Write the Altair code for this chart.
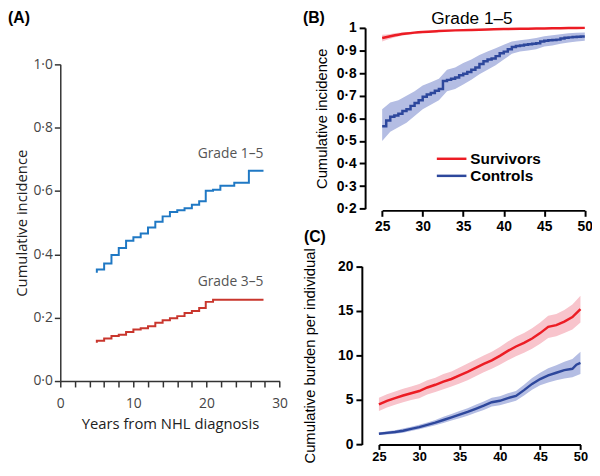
import altair as alt
import pandas as pd

# ---------------- data ----------------
# Panel A: cumulative incidence (step curves) vs years from NHL diagnosis
a_years_g15 = [5, 5, 6, 7, 8, 9, 10, 11, 12, 13, 14, 15, 16, 17, 18, 19, 19.9, 20.9, 21.9, 23.8, 25.8, 27.8]
a_inc_g15 = [0.342, 0.352, 0.371, 0.398, 0.420, 0.443, 0.454, 0.466, 0.485, 0.503, 0.520, 0.534,
             0.539, 0.546, 0.557, 0.568, 0.601, 0.604, 0.617, 0.626, 0.664, 0.664]
a_years_g35 = [5, 5, 6, 7, 8, 9, 10, 11, 12, 13, 14, 15, 16, 17, 18, 19, 19.9, 20.9, 27.8]
a_inc_g35 = [0.121, 0.127, 0.134, 0.142, 0.146, 0.155, 0.163, 0.167, 0.173, 0.184, 0.192, 0.198,
             0.205, 0.215, 0.221, 0.231, 0.250, 0.257, 0.257]
a_labels = ["Grade 1–5", "Grade 3–5"]
a_x_ticks = [0, 2, 4, 6, 8, 10, 12, 14, 16, 18, 20, 22, 24, 26, 28, 30]
a_y_ticks = [0.0, 0.2, 0.4, 0.6, 0.8, 1.0]

# Panel B: cumulative incidence grade 1-5 by attained age
b_years_ctrl = [25.0, 25.5, 26.0, 26.5, 27.0, 27.5, 28.0, 28.5, 29.0, 29.5, 30.0, 30.5, 31.0, 31.5,
                32.0, 32.5, 33.0, 33.5, 34.0, 34.5, 35.0, 35.5, 36.0, 36.5, 37.0, 37.5, 38.0, 38.5,
                39.0, 39.5, 40.0, 40.5, 41.0, 41.5, 42.0, 42.5, 43.0, 43.5, 44.0, 44.5, 45.0, 45.5,
                46.0, 46.5, 47.0, 47.5, 48.0, 48.5, 49.0, 49.5, 50.0]
b_inc_ctrl = [0.565, 0.590, 0.607, 0.612, 0.620, 0.632, 0.640, 0.655, 0.668, 0.680, 0.695, 0.705,
              0.712, 0.722, 0.730, 0.765, 0.770, 0.775, 0.780, 0.790, 0.797, 0.805, 0.815, 0.825,
              0.840, 0.852, 0.860, 0.865, 0.875, 0.888, 0.895, 0.905, 0.915, 0.920, 0.922, 0.925,
              0.928, 0.930, 0.932, 0.940, 0.943, 0.945, 0.946, 0.948, 0.953, 0.956, 0.958, 0.960,
              0.961, 0.962, 0.962]
b_band_years = [25, 26, 27, 28, 29, 30, 31, 32, 33, 34, 35, 36, 37, 38, 39, 40, 41, 42, 43, 44,
                45, 46, 47, 48, 49, 50]
b_ctrl_lo = [0.50, 0.54, 0.56, 0.58, 0.61, 0.64, 0.66, 0.68, 0.72, 0.73, 0.75, 0.77, 0.795, 0.815,
             0.835, 0.86, 0.885, 0.895, 0.90, 0.905, 0.918, 0.922, 0.93, 0.935, 0.94, 0.943]
b_ctrl_hi = [0.64, 0.67, 0.68, 0.70, 0.72, 0.745, 0.76, 0.775, 0.815, 0.825, 0.845, 0.86, 0.88,
             0.895, 0.91, 0.925, 0.94, 0.945, 0.95, 0.955, 0.963, 0.967, 0.972, 0.976, 0.978, 0.98]
b_years_surv = [25, 26, 27, 28, 29, 30, 32, 34, 36, 38, 40, 42, 44, 46, 48, 50]
b_inc_surv = [0.955, 0.963, 0.970, 0.975, 0.979, 0.982, 0.986, 0.989, 0.991, 0.993, 0.995, 0.996,
              0.997, 0.998, 0.999, 1.0]
b_surv_lo = [0.940, 0.952, 0.962, 0.968, 0.973, 0.977, 0.982, 0.986, 0.988, 0.991, 0.993, 0.994,
             0.995, 0.997, 0.998, 0.999]
b_surv_hi = [0.970, 0.973, 0.978, 0.981, 0.984, 0.986, 0.989, 0.992, 0.993, 0.995, 0.997, 0.998,
             0.998, 0.999, 1.0, 1.0]
b_legend = ["Survivors", "Controls"]
b_x_ticks = [25, 30, 35, 40, 45, 50]
b_y_ticks = [0.2, 0.3, 0.4, 0.5, 0.6, 0.7, 0.8, 0.9, 1.0]

# Panel C: cumulative burden per individual
c_years = [25, 26, 27, 28, 29, 30, 31, 32, 33, 34, 35, 36, 37, 38, 39, 40, 41, 42, 43, 44, 45,
           46, 47, 48, 49, 50]
c_surv = [4.5, 4.9, 5.2, 5.5, 5.75, 6.0, 6.4, 6.7, 7.05, 7.35, 7.75, 8.15, 8.6, 9.05, 9.45, 9.95,
          10.5, 11.0, 11.4, 11.9, 12.5, 13.2, 13.4, 13.8, 14.3, 15.2]
c_surv_lo = [3.75, 4.15, 4.45, 4.75, 5.0, 5.2, 5.6, 5.9, 6.2, 6.5, 6.85, 7.2, 7.65, 8.1, 8.5, 8.95,
             9.45, 9.9, 10.3, 10.75, 11.3, 11.95, 12.15, 12.5, 12.9, 13.7]
c_surv_hi = [5.25, 5.65, 5.95, 6.25, 6.5, 6.8, 7.2, 7.5, 7.9, 8.2, 8.65, 9.1, 9.55, 10.0, 10.4,
             10.95, 11.55, 12.1, 12.5, 13.05, 13.7, 14.45, 14.65, 15.1, 15.7, 16.7]
c_ctrl_years = [25, 26, 27, 28, 29, 30, 31, 32, 33, 34, 35, 36, 37, 38, 39, 40, 41, 42, 43, 44,
                45, 46, 47, 48, 49, 49.5, 50]
c_ctrl = [1.2, 1.3, 1.4, 1.55, 1.75, 1.95, 2.2, 2.45, 2.75, 3.05, 3.35, 3.65, 4.0, 4.35, 4.75,
          4.9, 5.2, 5.45, 6.1, 6.8, 7.35, 7.75, 8.05, 8.35, 8.5, 8.95, 9.15]
c_ctrl_lo = [1.05, 1.12, 1.2, 1.32, 1.5, 1.7, 1.93, 2.15, 2.4, 2.68, 2.95, 3.22, 3.55, 3.88, 4.25,
             4.4, 4.65, 4.9, 5.5, 6.15, 6.65, 6.95, 7.2, 7.4, 7.55, 7.9]
c_ctrl_hi = [1.35, 1.48, 1.6, 1.78, 2.0, 2.2, 2.47, 2.75, 3.1, 3.42, 3.75, 4.08, 4.45, 4.82, 5.25,
             5.4, 5.75, 6.0, 6.7, 7.45, 8.05, 8.55, 8.9, 9.3, 9.6, 10.4]
c_x_ticks = [25, 30, 35, 40, 45, 50]
c_y_ticks = [0, 5, 10, 15, 20]

# ---------------- style ----------------
W, H = 592, 460
FA = "Open Sans"
FB = "Liberation Sans"
A_BLUE, A_RED = "#1f78c4", "#c9362d"
RED, PINK = "#ec1c24", "#f8c4cc"
BLUE, LBLUE = "#2d479c", "#b4bde3"


def label(txt, x, y, size, weight="normal", font=FB, color="black", align="left", baseline="alphabetic"):
    return alt.Chart(pd.DataFrame({"t": [txt]})).mark_text(
        font=font, fontSize=size, fontWeight=weight, color=color, align=align, baseline=baseline
    ).encode(x=alt.value(x), y=alt.value(y), text="t:N")


# ---------------- panel A ----------------
dfA = pd.concat([
    pd.DataFrame({"year": a_years_g15, "inc": a_inc_g15, "grade": a_labels[0],
                  "idx": range(len(a_years_g15))}),
    pd.DataFrame({"year": a_years_g35, "inc": a_inc_g35, "grade": a_labels[1],
                  "idx": range(len(a_years_g35))}),
])
axA_x = alt.Axis(orient="bottom", offset=375 - H, values=a_x_ticks,
                 labelExpr="datum.value % 10 === 0 ? format(datum.value, 'd') : ''",
                 title="Years from NHL diagnosis", titleFont=FA, titleFontSize=15,
                 titleFontWeight="normal", titleColor="#222", titlePadding=6,
                 labelFont=FA, labelFontSize=14, labelColor="#444", labelPadding=10,
                 labelFlush=False, labelOverlap=False, tickSize=6, tickColor="#333",
                 tickWidth=1.5, domainColor="#333", domainWidth=1.5, grid=False)
axA_y = alt.Axis(orient="left", offset=-53, values=a_y_ticks,
                 labelExpr="replace(format(datum.value, '.1f'), '.', '·')",
                 title="Cumulative incidence", titleFont=FA, titleFontSize=15,
                 titleFontWeight="normal", titleColor="#222", titlePadding=4,
                 labelFont=FA, labelFontSize=14, labelColor="#444", labelPadding=2,
                 labelOverlap=False, tickSize=6, tickColor="#333", tickWidth=1.5,
                 domainColor="#333", domainWidth=1.5, grid=False)
sA_x = alt.Scale(domain=[0, 30], range=[53, 275.3], nice=False, zero=False)
sA_y = alt.Scale(domain=[0, 1], range=[375, 54], nice=False)

lineA = alt.Chart(dfA).mark_line(interpolate="step-after", strokeWidth=2).encode(
    x=alt.X("year:Q", scale=sA_x, axis=axA_x),
    y=alt.Y("inc:Q", scale=sA_y, axis=axA_y),
    color=alt.Color("grade:N", scale=alt.Scale(domain=a_labels, range=[A_BLUE, A_RED]), legend=None),
    order="idx:Q",
)
panelA = alt.layer(
    lineA,
    label(a_labels[0], 259, 145, 14, font=FA, color="#555", align="right", baseline="middle"),
    label(a_labels[1], 259, 275, 14, font=FA, color="#555", align="right", baseline="middle"),
    label("(A)", 0, 12, 16, weight="bold"),
)

# ---------------- panel B ----------------
sB_x = alt.Scale(domain=[25, 50], range=[379.3, 584.7], nice=False, zero=False)
sB_y = alt.Scale(domain=[0.2, 1], range=[200.3, 17], nice=False, zero=False)
axB_x = alt.Axis(orient="bottom", offset=202 - H, values=b_x_ticks, title=None,
                 labelFont=FB, labelFontSize=14, labelFontWeight="bold", labelColor="black",
                 labelPadding=3, labelFlush=False, labelOverlap=False, tickSize=6,
                 tickColor="black", tickWidth=2, domainColor="black", domainWidth=2, grid=False)
axB_y = alt.Axis(orient="left", offset=-362, values=b_y_ticks,
                 labelExpr="datum.value > 0.99 ? '1' : replace(format(datum.value, '.1f'), '.', '·')",
                 title="Cumulative incidence", titleFont=FB, titleFontSize=15,
                 titleFontWeight="normal", titleColor="black", titlePadding=7,
                 labelFont=FB, labelFontSize=14, labelFontWeight="bold", labelColor="black",
                 labelPadding=3, labelOverlap=False, tickSize=6, tickColor="black", tickWidth=2,
                 domainColor="black", domainWidth=2, grid=False)

dfB_ctrl = pd.DataFrame({"age": b_years_ctrl, "inc": b_inc_ctrl})
dfB_ctrl_band = pd.DataFrame({"age": b_band_years, "lo": b_ctrl_lo, "hi": b_ctrl_hi})
dfB_surv = pd.DataFrame({"age": b_years_surv, "inc": b_inc_surv, "lo": b_surv_lo, "hi": b_surv_hi})

bB_x = alt.X("age:Q", scale=sB_x, axis=axB_x)
bandB_ctrl = alt.Chart(dfB_ctrl_band).mark_area(interpolate="linear", color=LBLUE).encode(
    x=bB_x, y=alt.Y("lo:Q", scale=sB_y, axis=axB_y), y2="hi:Q",
)
bandB_surv = alt.Chart(dfB_surv).mark_area(interpolate="monotone", color=PINK).encode(
    x=bB_x, y=alt.Y("lo:Q", scale=sB_y, axis=axB_y), y2="hi:Q",
)
lineB_ctrl = alt.Chart(dfB_ctrl).mark_line(interpolate="step-after", color=BLUE, strokeWidth=2.5).encode(
    x=bB_x, y=alt.Y("inc:Q", scale=sB_y, axis=axB_y),
)
lineB_surv = alt.Chart(dfB_surv).mark_line(interpolate="monotone", color=RED, strokeWidth=2.5).encode(
    x=bB_x, y=alt.Y("inc:Q", scale=sB_y, axis=axB_y),
)

legend_layers = []
for i, (name, col) in enumerate(zip(b_legend, [RED, BLUE])):
    yy = 149.7 + i * 17.3
    legend_layers.append(
        alt.Chart(pd.DataFrame({"t": [name]})).mark_rule(color=col, strokeWidth=2.5).encode(
            x=alt.value(434.7), x2=alt.value(464.7), y=alt.value(yy))
    )
    legend_layers.append(label(name, 468.7, yy, 15.5, weight="bold", baseline="middle"))

panelB = alt.layer(
    bandB_ctrl, bandB_surv, lineB_ctrl, lineB_surv, *legend_layers,
    label("Grade 1–5", 470.3, 13, 17.5, align="center"),
    label("(B)", 299, 12, 16, weight="bold"),
)

# ---------------- panel C ----------------
sC_x = alt.Scale(domain=[25, 50], range=[376, 580.3], nice=False, zero=False)
sC_y = alt.Scale(domain=[0, 20], range=[439.3, 258.7], nice=False)
axC_x = alt.Axis(orient="bottom", offset=439.3 - H, values=c_x_ticks, title=None,
                 labelFont=FB, labelFontSize=13, labelFontWeight="bold", labelColor="black",
                 labelPadding=1, labelFlush=False, labelOverlap=False, tickSize=5,
                 tickColor="black", tickWidth=2, domainColor="black", domainWidth=2, grid=False)
axC_y = alt.Axis(orient="left", offset=-358.7, values=c_y_ticks, format="d",
                 title="Cumulative burden per individual", titleFont=FB, titleFontSize=15,
                 titleFontWeight="normal", titleColor="black", titlePadding=20,
                 labelFont=FB, labelFontSize=14, labelFontWeight="bold", labelColor="black",
                 labelPadding=3, labelOverlap=False, tickSize=6, tickColor="black", tickWidth=2,
                 domainColor="black", domainWidth=2, grid=False)

dfC_surv = pd.DataFrame({"age": c_years, "val": c_surv, "lo": c_surv_lo, "hi": c_surv_hi})
dfC_ctrl = pd.DataFrame({"age": c_ctrl_years, "val": c_ctrl})
dfC_ctrl_band = pd.DataFrame({"age": c_years, "lo": c_ctrl_lo, "hi": c_ctrl_hi})

cC_x = alt.X("age:Q", scale=sC_x, axis=axC_x)
bandC_surv = alt.Chart(dfC_surv).mark_area(color=PINK).encode(
    x=cC_x, y=alt.Y("lo:Q", scale=sC_y, axis=axC_y), y2="hi:Q",
)
bandC_ctrl = alt.Chart(dfC_ctrl_band).mark_area(color=LBLUE).encode(
    x=cC_x, y=alt.Y("lo:Q", scale=sC_y, axis=axC_y), y2="hi:Q",
)
lineC_surv = alt.Chart(dfC_surv).mark_line(color=RED, strokeWidth=2.5).encode(
    x=cC_x, y=alt.Y("val:Q", scale=sC_y, axis=axC_y),
)
lineC_ctrl = alt.Chart(dfC_ctrl).mark_line(color=BLUE, strokeWidth=2.5).encode(
    x=cC_x, y=alt.Y("val:Q", scale=sC_y, axis=axC_y),
)
panelC = alt.layer(
    bandC_surv, bandC_ctrl, lineC_surv, lineC_ctrl,
    label("(C)", 300, 234, 16, weight="bold"),
)

chart = alt.layer(panelA, panelB, panelC).resolve_scale(
    x="independent", y="independent"
).properties(
    width=W, height=H, autosize=alt.AutoSizeParams(type="none"), padding=0
).configure_view(stroke="transparent")

chart.save("out.html", embed_options={"renderer": "svg", "actions": False})
